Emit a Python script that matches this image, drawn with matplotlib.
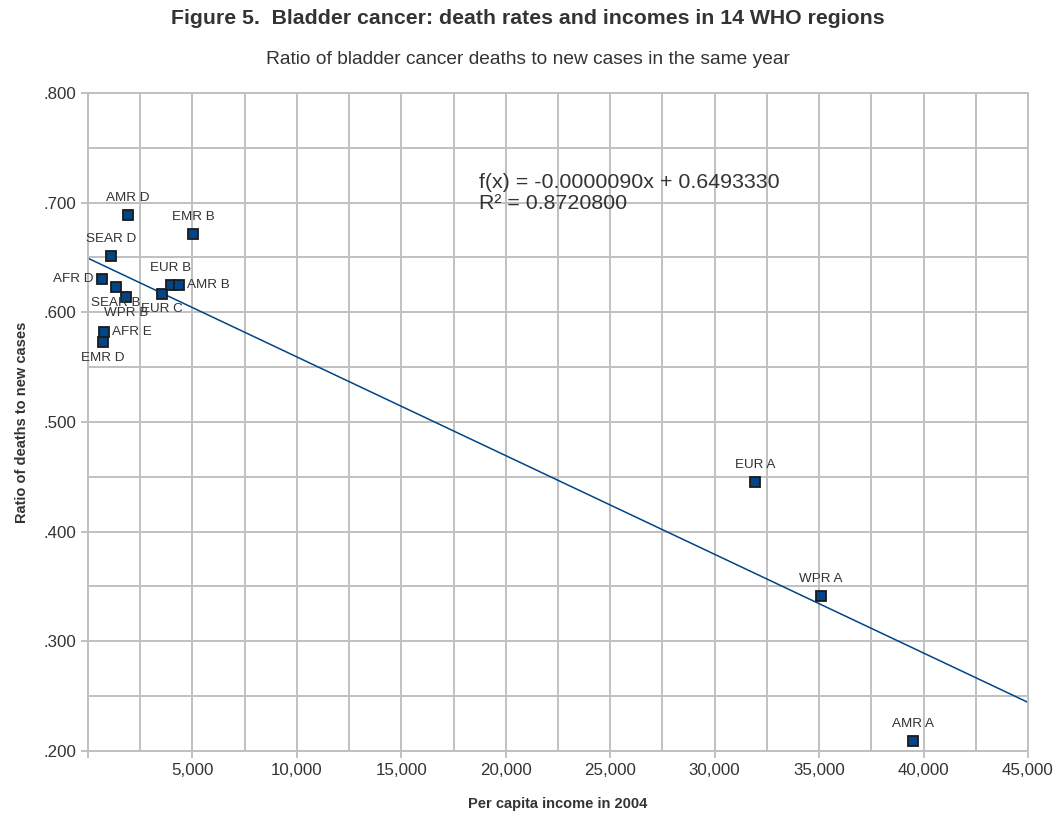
import numpy as np
import matplotlib.pyplot as plt
from matplotlib.ticker import MultipleLocator, FuncFormatter

plt.rcParams['font.family'] = ['Liberation Sans', 'DejaVu Sans']

# regions, income (x) and ratio of deaths to new cases (y)
regions = ['AMR D', 'EMR B', 'SEAR D', 'AFR D', 'SEAR B', 'WPR B', 'EUR C', 'EUR B',
           'AMR B', 'AFR E', 'EMR D', 'EUR A', 'WPR A', 'AMR A']
income = [1915, 5030, 1100, 670, 1340, 1820, 3540, 3970,
          4360, 770, 720, 31930, 35090, 39490]
ratio = [0.689, 0.671, 0.651, 0.630, 0.623, 0.614, 0.617, 0.625,
         0.625, 0.582, 0.573, 0.445, 0.341, 0.209]
# where the label sits relative to the point
label_pos = ['top', 'top', 'top', 'left', 'bottom', 'bottom', 'bottom', 'top',
             'right', 'right', 'bottom', 'top', 'top', 'top']

slope = -0.0000090
intercept = 0.6493330
eq_text = 'f(x) = -0.0000090x + 0.6493330\nR² = 0.8720800'

blue = '#004586'
grey = '#c0c0c0'
txt = '#333333'

fig = plt.figure(figsize=(10.56, 8.16), dpi=100)
ax = fig.add_axes([88 / 1056, 1 - 751 / 816, 940 / 1056, 658 / 816])

xs = np.array([0, 45000])
ax.plot(xs, slope * xs + intercept, color=blue, lw=1.1, zorder=2)
ax.plot(income, ratio, 's', ms=7.5, mfc=blue, mec='#1a1a1a', mew=1.3, zorder=3)

for r, x, y, p in zip(regions, income, ratio, label_pos):
    if p == 'top':
        ax.annotate(r, (x, y), xytext=(0, 8), textcoords='offset points',
                    ha='center', va='bottom', fontsize=9.7, color=txt)
    elif p == 'bottom':
        ax.annotate(r, (x, y), xytext=(0, -7), textcoords='offset points',
                    ha='center', va='top', fontsize=9.7, color=txt)
    elif p == 'left':
        ax.annotate(r, (x, y), xytext=(-6, 0), textcoords='offset points',
                    ha='right', va='center', fontsize=9.7, color=txt)
    else:
        ax.annotate(r, (x, y), xytext=(6, 0), textcoords='offset points',
                    ha='left', va='center', fontsize=9.7, color=txt)

ax.text(18700, 0.727, eq_text, fontsize=15.4, color=txt, va='top', ha='left',
        linespacing=1.15)

ax.set_xlim(0, 45000)
ax.set_ylim(0.2, 0.8)
ax.xaxis.set_major_locator(MultipleLocator(5000))
ax.xaxis.set_minor_locator(MultipleLocator(2500))
ax.yaxis.set_major_locator(MultipleLocator(0.1))
ax.yaxis.set_minor_locator(MultipleLocator(0.05))
ax.xaxis.set_major_formatter(FuncFormatter(lambda v, p: '' if v == 0 else f'{int(v):,}'))
ax.yaxis.set_major_formatter(FuncFormatter(lambda v, p: f'{v:.3f}'.lstrip('0')))
ax.grid(True, which='both', color=grey, lw=1.4)
ax.set_axisbelow(True)
ax.tick_params(which='major', color=grey, width=1.4, length=5, labelsize=12.2, labelcolor=txt)
ax.tick_params(which='minor', length=0)
for s in ax.spines.values():
    s.set_color(grey)
    s.set_linewidth(1.4)

ax.set_xlabel('Per capita income in 2004', fontsize=10.5, fontweight='bold', color=txt, labelpad=14)
ax.set_ylabel('Ratio of deaths to new cases', fontsize=10.5, fontweight='bold', color=txt, labelpad=10)

fig.text(0.5, 1 - 19 / 816, 'Figure 5.  Bladder cancer: death rates and incomes in 14 WHO regions',
         ha='center', va='center', fontsize=15.3, fontweight='bold', color=txt)
fig.text(0.5, 1 - 59 / 816, 'Ratio of bladder cancer deaths to new cases in the same year',
         ha='center', va='center', fontsize=13.8, color=txt)

fig.savefig('out.png', dpi=100)
